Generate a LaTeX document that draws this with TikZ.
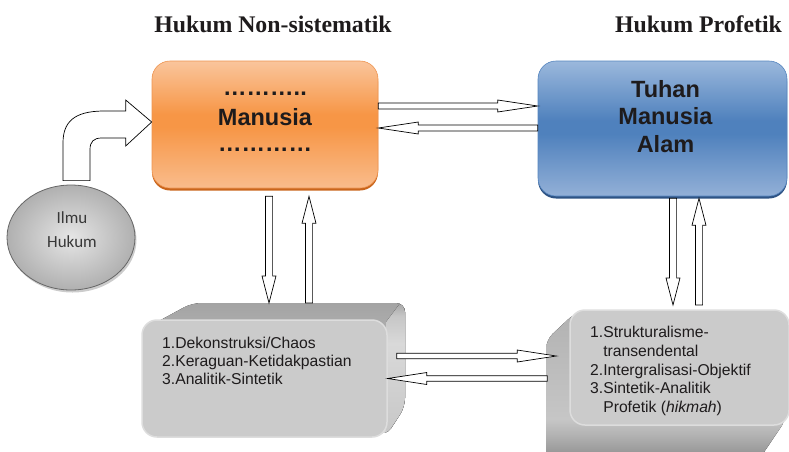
\documentclass[tikz,border=0pt]{standalone}
\usepackage{fontspec}
\setmainfont{Liberation Sans}
\newfontfamily\titlefont{Liberation Serif}
\newfontfamily\calfont{Carlito}
\usetikzlibrary{calc,shapes.geometric,shadows}

% palette
\definecolor{orTop}{HTML}{FAC59C}
\definecolor{orMid}{HTML}{F79646}
\definecolor{orBot}{HTML}{F9BC8C}
\definecolor{orEdge}{HTML}{EE9450}
\definecolor{orShadow}{HTML}{C9651C}
\definecolor{blTop}{HTML}{9BB8DC}
\definecolor{blMid}{HTML}{4F81BD}
\definecolor{blBot}{HTML}{93B0D7}
\definecolor{blEdge}{HTML}{5585BF}
\definecolor{blShadow}{HTML}{2E5384}
\definecolor{grFace}{HTML}{CBCBCB}
\definecolor{grGlow}{HTML}{DDDDDD}
\definecolor{exA}{HTML}{A3A3A3}
\definecolor{exB}{HTML}{D4D4D4}
\definecolor{exC}{HTML}{B2B2B2}
\definecolor{exD}{HTML}{C6C6C6}
\definecolor{exE}{HTML}{9A9A9A}
\definecolor{exF}{HTML}{8C8C8C}
\definecolor{exG}{HTML}{D9D9D9}
\definecolor{ink}{HTML}{1E1B1C}

\pgfdeclareverticalshading{orangeband}{100bp}{color(0bp)=(orBot); color(25bp)=(orBot); color(49bp)=(orMid); color(54bp)=(orMid); color(75bp)=(orTop); color(100bp)=(orTop)}
\pgfdeclareverticalshading{blueband}{100bp}{color(0bp)=(blBot); color(25bp)=(blBot); color(48bp)=(blMid); color(53bp)=(blMid); color(75bp)=(blTop); color(100bp)=(blTop)}
\pgfdeclareverticalshading{lowerslab}{100bp}{color(0bp)=(exF); color(25bp)=(exF); color(31bp)=(exE); color(36bp)=(exC); color(41bp)=(exD); color(75bp)=(exC); color(100bp)=(exC)}
\pgfdeclareverticalshading{sideslab}{100bp}{color(0bp)=(exD); color(25bp)=(exD); color(60bp)=(exG); color(70bp)=(exD); color(75bp)=(exA); color(100bp)=(exA)}

\tikzset{
  % hollow block arrow between two coordinates: {shaft half width}{head half width}{head length}
  blockarrow/.style n args={3}{draw=black, fill=white, line width=0.7pt, line join=miter,
    to path={
      ($(\tikztostart)!#1!90:(\tikztotarget)$)
      -- ($(\tikztotarget)!#3!(\tikztostart)!#1!-90:(\tikztostart)$)
      -- ($(\tikztotarget)!#3!(\tikztostart)!#2!-90:(\tikztostart)$)
      -- (\tikztotarget)
      -- ($(\tikztotarget)!#3!(\tikztostart)!#2!90:(\tikztostart)$)
      -- ($(\tikztotarget)!#3!(\tikztostart)!#1!90:(\tikztostart)$)
      -- ($(\tikztostart)!#1!-90:(\tikztotarget)$)
      -- cycle}},
  harrow/.style={blockarrow={3pt}{6pt}{40pt}},
  garrow/.style={blockarrow={2.8pt}{6pt}{39pt}},
  varrow/.style={blockarrow={3.6pt}{7pt}{27pt}},
  bendarrow/.style={draw=black, fill=white, line width=0.7pt, line join=miter},
  mainbox/.style={rectangle, rounded corners=18pt, inner sep=0pt, line width=0.6pt},
  frontface/.style={rectangle, rounded corners=15pt, inner sep=0pt, fill=grFace, draw=grGlow, line width=1.5pt},
  headline/.style={font=\titlefont\bfseries\fontsize{23.8}{28}\selectfont, text=ink},
  bigword/.style={font=\bfseries\fontsize{23.5}{27.5}\selectfont, text=ink, align=center, inner sep=0pt},
  listtext/.style={anchor=north west, align=left, inner sep=0pt, text=ink},
}

\begin{document}
\begin{tikzpicture}[x=1pt,y=-1pt]
\useasboundingbox (0,0) rectangle (789,451);
\clip (0,0) rectangle (789,451);

% headings
\node[headline] (head1) at (273,24) {Hukum Non-sistematik};
\node[headline] (head2) at (698.5,24) {Hukum Profetik};

% upper boxes
\node[mainbox, shading=orangeband, draw=orEdge, minimum width=226pt, minimum height=127pt,
      drop shadow={shadow xshift=0pt, shadow yshift=-2.5pt, fill=orShadow, opacity=1}] (man) at (265,124.5) {};
\node[bigword] (mdots1) at (265,94) {………..};
\node[bigword] (mword) at (265,117) {Manusia};
\node[bigword] (mdots2) at (265,150) {…………};

\node[mainbox, shading=blueband, draw=blEdge, minimum width=249pt, minimum height=135pt,
      drop shadow={shadow xshift=0pt, shadow yshift=-2.5pt, fill=blShadow, opacity=1}] (god) at (662.5,128.5) {};
\node[bigword] (gword) at (665.5,116.5) {Tuhan\\Manusia\\Alam};

% ellipse
\node[ellipse, minimum width=128pt, minimum height=105pt, inner sep=0pt,
      shading=radial, inner color=gray!20, outer color=gray!62, draw=gray!80!black, line width=0.8pt,
      drop shadow={shadow xshift=1.5pt, shadow yshift=-2.5pt, fill=gray!40, opacity=1}] (ilmu) at (71,237.5) {};
\node[font=\calfont\fontsize{17}{24}\selectfont, text=black!78, align=center, inner sep=0pt] (ilmutxt) at (72,230) {Ilmu\\Hukum};

% lower left 3-D box: extrusion (top face, lighter side face) then front face
\begin{scope}
  \path[clip, rounded corners=9pt] (146,328) -- (192,303) -- (405,303) -- (405,407) -- (386,436) -- cycle;
  \fill[top color=exA, bottom color=exB] (140,300) rectangle (410,440);
  \fill[shading=sideslab] (386,322) -- (401,302) -- (410,302) -- (410,440) -- (386,440) -- cycle;
\end{scope}
\coordinate (b1back) at (300,303);
\node[frontface, minimum width=245pt, minimum height=117pt] (b1) at (264.5,378.5) {};
\node[listtext, font=\fontsize{15.7}{18}\selectfont] (b1txt) at (162,337)
  {1.Dekonstruksi/Chaos\\2.Keraguan-Ketidakpastian\\3.Analitik-Sintetik};

% lower right 3-D box
\fill[rounded corners=9pt, shading=lowerslab]
  (576,312) -- (546,340) -- (546,470) -- (752,470) -- (787,418) -- cycle;
\coordinate (b2back) at (690,305);
\node[frontface, minimum width=219pt, minimum height=115pt] (b2) at (679.5,367.5) {};
\node[listtext, font=\fontsize{15.7}{18.75}\selectfont] (b2txt) at (590,326)
  {1.Strukturalisme-\\\phantom{1.}transendental\\2.Intergralisasi-Objektif\\3.Sintetik-Analitik\\\phantom{1.}Profetik (\textit{hikmah})};

% connector end points
\coordinate (h1s) at ([yshift=18.5pt]man.east);
\coordinate (h1t) at (god.west |- h1s);
\coordinate (h2s) at ([yshift=0.5pt]god.west);
\coordinate (h2t) at (man.east |- h2s);
\coordinate (v1s) at ([xshift=4pt,yshift=-8pt]man.south);
\coordinate (v1t) at (v1s |- b1back);
\coordinate (v2t) at ([xshift=44pt,yshift=-8pt]man.south);
\coordinate (v2s) at (v2t |- b1back);
\coordinate (v3s) at ([xshift=10.5pt,yshift=-2pt]god.south);
\coordinate (v3t) at (v3s |- b2back);
\coordinate (v4t) at ([xshift=36.5pt,yshift=-2pt]god.south);
\coordinate (v4s) at (v4t |- b2back);
\coordinate (g1s) at ([xshift=9pt,yshift=22.5pt]b1.east);
\coordinate (g1t) at ([xshift=-13pt]b2.west |- g1s);
\coordinate (g2s) at ([xshift=-22pt,yshift=-11pt]b2.west);
\coordinate (g2t) at (b1.east |- g2s);

% block arrows
\draw[harrow] (h1s) to (h1t);
\draw[harrow] (h2s) to (h2t);
\draw[varrow] (v1s) to (v1t);
\draw[varrow] (v2s) to (v2t);
\draw[varrow] (v3s) to (v3t);
\draw[varrow] (v4s) to (v4t);
\draw[garrow] (g1s) to (g1t);
\draw[garrow] (g2s) to (g2t);

% bent arrow from the ellipse into the orange box
\coordinate (cs) at ([xshift=5.5pt,yshift=4pt]ilmu.north);
\coordinate (ct) at ([yshift=2.5pt]man.west);
\draw[bendarrow]
  ($(cs)+(-13.5,0)$) -- ($(cs)+(-13.5,-38)$)
  .. controls ($(cs)+(-13.5,-63)$) and ($(cs)+(3.5,-70)$) .. ($(ct)+(-45,-11)$)
  -- ($(ct)+(-26,-11)$) -- ($(ct)+(-26,-22)$) -- (ct) -- ($(ct)+(-26,24)$) -- ($(ct)+(-26,16)$)
  -- ($(ct)+(-50,16)$)
  .. controls ($(ct)+(-58,16)$) and ($(cs)+(13.5,-39)$) .. ($(cs)+(13.5,-31)$)
  -- ($(cs)+(13.5,0)$) -- cycle;
\end{tikzpicture}
\end{document}
